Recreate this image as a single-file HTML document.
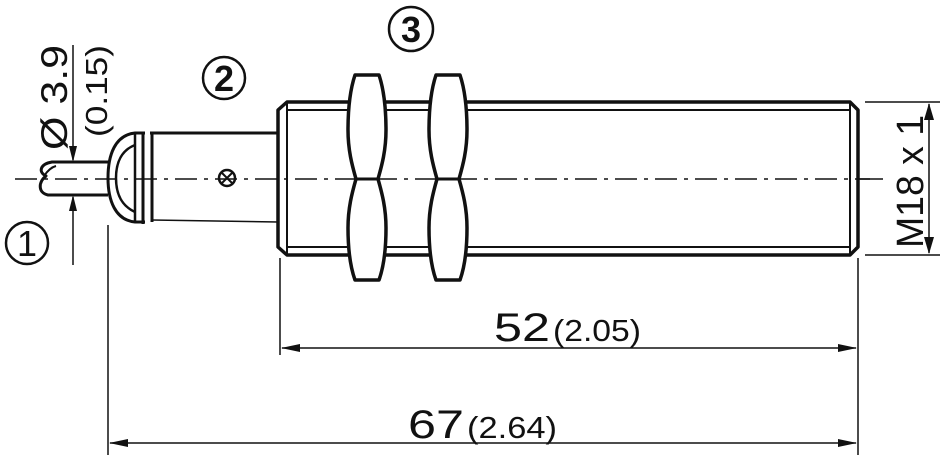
<!DOCTYPE html>
<html><head><meta charset="utf-8"><style>
html,body{margin:0;padding:0;background:#fff}
svg{display:block}
text{font-family:"Liberation Sans",sans-serif;fill:#111}
</style></head><body>
<svg width="940" height="455" viewBox="0 0 940 455" xmlns="http://www.w3.org/2000/svg">
<g stroke="#111" fill="none" stroke-linejoin="round">
<line x1="15" y1="179" x2="870" y2="179" stroke-width="1.5" stroke-dasharray="22,7,4,7"/>
<path d="M108,162 H52 C40,164 38,172 46,176 C38,182 38,193 48,195 H108" stroke-width="3"/>
<path d="M44,176 C48,170 52,167 56,166" stroke-width="2"/>
<path d="M145,133 H135 C115,135 108,155 108,178 C108,200 115,220 135,222 H145" stroke-width="3"/>
<path d="M135,145 C122,150 116,162 116,178 C116,195 122,206 135,212" stroke-width="2.5"/>
<line x1="135" y1="133" x2="135" y2="222" stroke-width="2.5"/>
<line x1="143" y1="133" x2="143" y2="224" stroke-width="3"/>
<line x1="152" y1="133" x2="152" y2="222" stroke-width="3"/>
<line x1="150" y1="133" x2="278" y2="133" stroke-width="3"/>
<line x1="152" y1="220" x2="278" y2="222" stroke-width="1.5"/>
<circle cx="227" cy="178" r="8" stroke-width="2.5"/>
<path d="M221,172 L233,184 M233,172 L221,184" stroke-width="2"/>
<path d="M287,102 H850 L858,110 V247 L850,255 H287 L278,247 V110 Z" stroke-width="3.5"/>
<line x1="287" y1="110" x2="850" y2="110" stroke-width="2"/>
<line x1="287" y1="247" x2="850" y2="247" stroke-width="2"/>
<line x1="287" y1="102" x2="287" y2="255" stroke-width="2"/>
<line x1="850" y1="102" x2="850" y2="255" stroke-width="2"/>
<g stroke-width="3.5" fill="#fff">
<path d="M355,75 H379 C384,90 386,110 386,130 C386,150 382,165 378,179 C382,193 386,208 386,228 C386,248 384,266 379,280 H355 C350,266 348,248 348,228 C348,208 352,193 356,179 C352,165 348,150 348,130 C348,110 350,90 355,75 Z"/>
<path d="M436,75 H460 C465,90 467,110 467,130 C467,150 463,165 459,179 C463,193 467,208 467,228 C467,248 465,266 460,280 H436 C431,266 429,248 429,228 C429,208 433,193 437,179 C433,165 429,150 429,130 C429,110 431,90 436,75 Z"/>
</g>
<line x1="356" y1="179" x2="378" y2="179" stroke-width="3"/>
<line x1="437" y1="179" x2="459" y2="179" stroke-width="3"/>
<line x1="858" y1="179" x2="883" y2="179" stroke-width="1.5"/>
<g stroke-width="1.5">
<line x1="73" y1="45" x2="73" y2="160"/>
<line x1="73" y1="197" x2="73" y2="265"/>
<line x1="865" y1="102" x2="940" y2="102"/>
<line x1="865" y1="255" x2="940" y2="255"/>
<line x1="929" y1="104" x2="929" y2="253"/>
<line x1="280" y1="258" x2="280" y2="355"/>
<line x1="858" y1="258" x2="858" y2="455"/>
<line x1="108" y1="225" x2="108" y2="455"/>
<line x1="282" y1="348" x2="856" y2="348"/>
<line x1="110" y1="443" x2="856" y2="443"/>
</g>
</g>
<g fill="#111">
<path d="M73,162 L69,146 L77,146 Z"/>
<path d="M73,195 L69,211 L77,211 Z"/>
<path d="M929,103 L924,120 L934,120 Z"/>
<path d="M929,254 L924,237 L934,237 Z"/>
<path d="M281,348 L300,344 L300,352 Z"/>
<path d="M857,348 L838,344 L838,352 Z"/>
<path d="M109,443 L128,439 L128,447 Z"/>
<path d="M857,443 L838,439 L838,447 Z"/>
</g>
<text x="0" y="0" font-size="37" textLength="105" lengthAdjust="spacingAndGlyphs" transform="translate(67,150) rotate(-90)">Ø 3.9</text>
<text x="0" y="0" font-size="31" textLength="92" lengthAdjust="spacingAndGlyphs" transform="translate(107,137) rotate(-90)">(0.15)</text>
<text x="0" y="0" font-size="38" textLength="133" lengthAdjust="spacingAndGlyphs" transform="translate(923,248) rotate(-90)">M18 x 1</text>
<text x="494" y="341" font-size="40" textLength="56" lengthAdjust="spacingAndGlyphs">52</text>
<text x="553" y="341" font-size="31" textLength="88" lengthAdjust="spacingAndGlyphs">(2.05)</text>
<text x="408" y="438" font-size="40" textLength="56" lengthAdjust="spacingAndGlyphs">67</text>
<text x="467" y="438" font-size="31" textLength="90" lengthAdjust="spacingAndGlyphs">(2.64)</text>
<g fill="none" stroke="#111" stroke-width="2.5">
<circle cx="27" cy="243" r="21"/>
<circle cx="224" cy="78" r="21"/>
<circle cx="411" cy="29" r="22"/>
</g>
<text x="27" y="256" font-size="36" text-anchor="middle">1</text>
<text x="224" y="91" font-size="36" font-weight="bold" text-anchor="middle">2</text>
<text x="411" y="42" font-size="36" font-weight="bold" text-anchor="middle">3</text>
</svg>
</body></html>
